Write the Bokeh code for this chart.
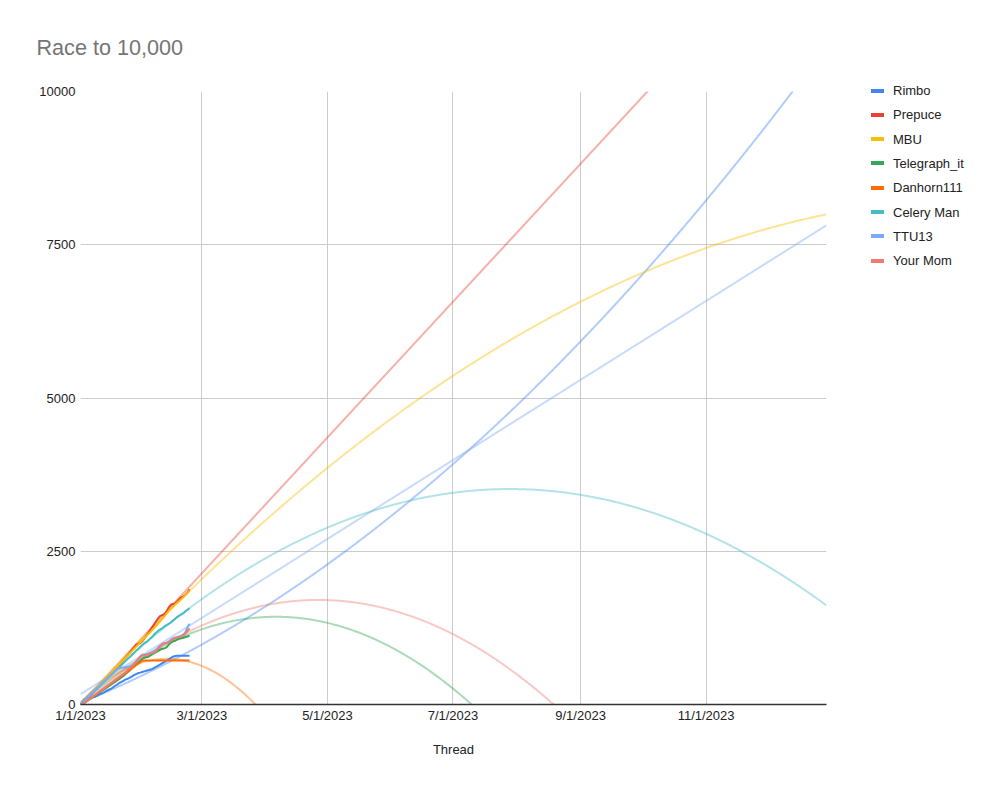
import numpy as np
import pandas as pd
from bokeh.plotting import figure
from bokeh.layouts import row
from bokeh.models import Range1d, FixedTicker, ColumnDataSource, Div
from bokeh.embed import file_html
from bokeh.resources import INLINE

FONT = "Liberation Sans"

series = ["Rimbo", "Prepuce", "MBU", "Telegraph_it", "Danhorn111", "Celery Man", "TTU13", "Your Mom"]
colors = ["#4285F4", "#EA4335", "#FBBC04", "#34A853", "#FF6D01", "#46BDC6", "#7BAAF7", "#F07B72"]

# daily running totals, 1/1/2023 .. 2/23/2023
dates = pd.date_range("2023-01-01", "2023-02-23", freq="D")

rimbo = [0, 40, 80, 100, 110, 115, 120, 125, 140, 160,
         175, 190, 210, 230, 245, 260, 285, 310, 330, 355,
         370, 390, 410, 420, 440, 460, 480, 495, 510, 520,
         530, 540, 550, 560, 570, 580, 600, 620, 640, 660,
         680, 700, 720, 740, 760, 780, 790, 795, 795, 795,
         795, 795, 795, 795]
prepuce = [0, 25, 55, 90, 125, 160, 195, 230, 265, 300,
           335, 370, 405, 440, 475, 510, 545, 580, 615, 650,
           690, 730, 770, 810, 850, 890, 930, 975, 990, 1000,
           1030, 1075, 1120, 1170, 1220, 1270, 1320, 1370, 1420, 1450,
           1460, 1480, 1530, 1590, 1630, 1640, 1650, 1680, 1720, 1750,
           1760, 1790, 1830, 1880]
mbu = [0, 30, 65, 100, 135, 170, 205, 240, 275, 310,
       345, 380, 415, 450, 485, 520, 555, 590, 625, 660,
       695, 730, 765, 800, 835, 870, 905, 940, 975, 1010,
       1045, 1080, 1115, 1150, 1185, 1220, 1255, 1290, 1330, 1370,
       1410, 1450, 1490, 1530, 1570, 1600, 1630, 1660, 1690, 1720,
       1750, 1790, 1820, 1860]
telegraph = [0, 12, 30, 52, 75, 98, 121, 144, 167, 190,
             213, 236, 259, 282, 305, 328, 351, 374, 397, 420,
             445, 470, 500, 530, 560, 590, 620, 650, 680, 710,
             744, 760, 770, 780, 800, 820, 840, 860, 880, 900,
             910, 920, 940, 980, 1010, 1030, 1040, 1060, 1070, 1080,
             1090, 1100, 1110, 1124]
danhorn = [0, 15, 35, 58, 82, 106, 130, 154, 178, 202,
           226, 250, 274, 298, 322, 346, 370, 394, 418, 442,
           466, 490, 514, 540, 565, 590, 615, 640, 665, 690,
           716, 716, 716, 716, 716, 716, 716, 716, 716, 716,
           716, 716, 716, 716, 716, 716, 716, 716, 716, 716,
           716, 716, 716, 716]
celery = [0, 30, 62, 95, 128, 160, 193, 225, 258, 290,
          322, 355, 387, 420, 452, 485, 515, 548, 580, 612,
          645, 680, 712, 745, 775, 810, 842, 875, 905, 940,
          972, 1000, 1020, 1050, 1080, 1110, 1150, 1180, 1210, 1230,
          1250, 1280, 1300, 1320, 1340, 1370, 1400, 1430, 1450, 1470,
          1490, 1520, 1545, 1570]
ttu13 = [0, 30, 62, 95, 128, 160, 195, 230, 262, 295,
         330, 362, 395, 428, 460, 495, 525, 555, 580, 590,
         600, 605, 610, 615, 620, 630, 660, 700, 740, 780,
         810, 815, 820, 830, 840, 850, 870, 900, 940, 970,
         990, 1000, 1010, 1030, 1060, 1080, 1090, 1100, 1110, 1120,
         1140, 1180, 1260, 1316]
your_mom = [0, 10, 30, 55, 80, 105, 130, 155, 180, 205,
            230, 255, 280, 305, 330, 355, 380, 405, 430, 455,
            480, 505, 535, 565, 595, 625, 660, 700, 740, 780,
            800, 800, 810, 820, 830, 840, 850, 880, 920, 960,
            990, 1000, 1010, 1015, 1040, 1070, 1090, 1095, 1100, 1110,
            1130, 1160, 1200, 1243]

values = [rimbo, prepuce, mbu, telegraph, danhorn, celery, ttu13, your_mom]

# trendline polynomials: c0 + c1*d + c2*d^2 (d = days since 1/1/2023)
trend_c0 = [30, 0, 0, 7, 34, 25, 169, -36]
trend_c1 = [13.48, 36.3, 37.17, 30.01, 33.85, 33.46, 21.1, 30.14]
trend_c2 = [0.04432, 0.0, -0.04169, -0.1581, -0.403, -0.0802, 0.0, -0.1304]

x_start = pd.Timestamp("2023-01-01")
x_end = x_start + pd.Timedelta(days=362.5)

x_ticks = ["2023-01-01", "2023-03-01", "2023-05-01", "2023-07-01", "2023-09-01", "2023-11-01"]
x_tick_labels = ["1/1/2023", "3/1/2023", "5/1/2023", "7/1/2023", "9/1/2023", "11/1/2023"]
y_ticks = [0, 2500, 5000, 7500, 10000]

H = 779
p = figure(width=850, height=H, x_axis_type="datetime",
           x_range=Range1d(x_start, x_end), y_range=Range1d(0, 10000),
           output_backend="svg", toolbar_location=None,
           min_border_left=80, min_border_right=24, min_border_top=90, min_border_bottom=75)
p.outline_line_color = None
p.background_fill_color = "white"

# title
p.title.text = "Race to 10,000"
p.title.text_font = FONT
p.title.text_font_size = "21.6px"
p.title.text_font_style = "normal"
p.title.text_color = "#757575"
p.title.align = "left"
p.title.offset = -44
p.title.standoff = 64

# axes
tick_ms = [int(pd.Timestamp(t).value // 10**6) for t in x_ticks]
p.xaxis.ticker = FixedTicker(ticks=tick_ms)
p.xgrid.ticker = FixedTicker(ticks=tick_ms)
p.xaxis.major_label_overrides = {ms: lab for ms, lab in zip(tick_ms, x_tick_labels)}
p.yaxis.ticker = FixedTicker(ticks=y_ticks)
p.ygrid.ticker = FixedTicker(ticks=y_ticks)

for ax in (p.xaxis, p.yaxis):
    ax.major_tick_line_color = None
    ax.minor_tick_line_color = None
    ax.major_tick_out = 0
    ax.major_tick_in = 0
    ax.minor_tick_out = 0
    ax.major_label_text_font = FONT
    ax.major_label_text_font_size = "13px"
    ax.major_label_text_color = "#222222"
p.xaxis.major_label_standoff = 3
p.yaxis.major_label_standoff = 5
p.yaxis.axis_line_color = None
p.xaxis.axis_line_color = "#333333"
p.xaxis.axis_line_width = 1.5
p.xaxis.axis_label = "Thread"
p.xaxis.axis_label_text_font = FONT
p.xaxis.axis_label_text_font_size = "13px"
p.xaxis.axis_label_text_font_style = "normal"
p.xaxis.axis_label_text_color = "#222222"
p.xaxis.axis_label_standoff = 16

p.xgrid.grid_line_color = "#cccccc"
p.ygrid.grid_line_color = "#cccccc"

# trendlines
tdays = np.linspace(0, 362.5, 726)
tdates = x_start + pd.to_timedelta(tdays, unit="D")
for i, col in enumerate(colors):
    ty = trend_c0[i] + trend_c1[i] * tdays + trend_c2[i] * tdays ** 2
    p.line(x=tdates, y=ty, line_color=col, line_alpha=0.42, line_width=2)

# data series
for name, col, vals in zip(series, colors, values):
    src = ColumnDataSource(dict(x=dates, y=vals))
    p.line(x="x", y="y", source=src, line_color=col, line_width=2)

# legend as an HTML block to the right of the chart
rows_html = []
for i, (name, col) in enumerate(zip(series, colors)):
    top = 78 + i * 24.3
    rows_html.append(
        f'<div style="position:absolute;left:21px;top:{top:.1f}px;height:24px;'
        f'line-height:24px;white-space:nowrap;">'
        f'<span style="display:inline-block;width:13px;height:4px;background:{col};'
        f'vertical-align:middle;margin-right:9px;"></span>'
        f'<span style="vertical-align:middle;">{name}</span></div>'
    )
legend_html = (
    f'<div style="position:relative;width:134px;height:{H}px;'
    f"font-family:'{FONT}';font-size:13px;color:#222222;\">"
    + "".join(rows_html) + "</div>"
)
legend_div = Div(text=legend_html, width=134, height=H, margin=(0, 0, 0, 0))

layout = row(p, legend_div, spacing=0)
open("out.html", "w").write(file_html(layout, INLINE))
